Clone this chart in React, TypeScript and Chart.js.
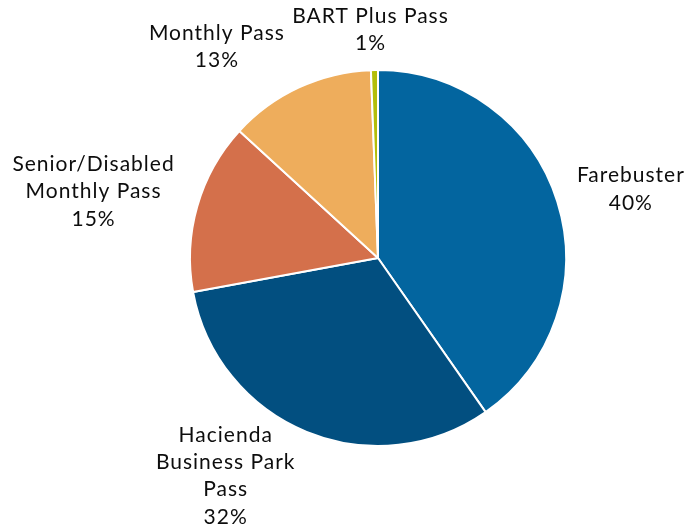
import React, { useEffect, useRef } from "react";
import { Chart, registerables } from "chart.js";

Chart.register(...registerables);

const categories: string[][] = [
  ["Farebuster"],
  ["Hacienda", "Business Park", "Pass"],
  ["Senior/Disabled", "Monthly Pass"],
  ["Monthly Pass"],
  ["BART Plus Pass"],
];
const shares: number[] = [40.3, 31.8, 14.7, 12.6, 0.6];
const colors: string[] = ["#03659F", "#024F80", "#D4704B", "#EEAD5C", "#B3BE0A"];

// label block centres, relative to pie centre, in units of radius
const labelPlacement: [number, number][] = [
  [1.345, -0.365],
  [-0.81, 1.159],
  [-1.513, -0.354],
  [-0.857, -1.122],
  [-0.04, -1.215],
];

const labelPlugin = {
  id: "outerLabels",
  afterDraw(chart: any) {
    const ctx = chart.ctx;
    const meta = chart.getDatasetMeta(0);
    const data = chart.data.datasets[0].data as number[];
    const total = data.reduce((a, b) => a + b, 0);
    ctx.save();
    ctx.font = "21px Lato";
    (ctx as any).letterSpacing = "1px";
    ctx.fillStyle = "#0d0d0d";
    ctx.textAlign = "center";
    ctx.textBaseline = "middle";
    const lh = 27.3;
    meta.data.forEach((arc: any, i: number) => {
      const { x, y, outerRadius } = arc.getProps(["x", "y", "outerRadius"], true);
      const [ox, oy] = labelPlacement[i];
      const cx = x + ox * outerRadius;
      const cy = y + oy * outerRadius;
      const lines = [...categories[i], Math.round((data[i] / total) * 100) + "%"];
      const start = cy - ((lines.length - 1) * lh) / 2;
      lines.forEach((t, k) => ctx.fillText(t, cx, start + k * lh));
    });
    ctx.restore();
  },
};

export default function App() {
  const ref = useRef<HTMLCanvasElement>(null);
  useEffect(() => {
    document.body.style.margin = "0";
    const chart = new Chart(ref.current!, {
      type: "pie",
      data: {
        labels: categories.map((c) => c.join(" ")),
        datasets: [
          {
            data: shares,
            backgroundColor: colors,
            borderColor: "#ffffff",
            borderWidth: 2,
          },
        ],
      },
      options: {
        animation: false,
        responsive: false,
        layout: { padding: { left: 189, right: 123, top: 69, bottom: 84 } },
        plugins: { legend: { display: false }, tooltip: { enabled: false } },
      },
      plugins: [labelPlugin],
    });
    return () => chart.destroy();
  }, []);
  return (
    <div style={{ width: 690, height: 531 }}>
      <canvas ref={ref} width={690} height={531} style={{ width: 690, height: 531 }} />
    </div>
  );
}
